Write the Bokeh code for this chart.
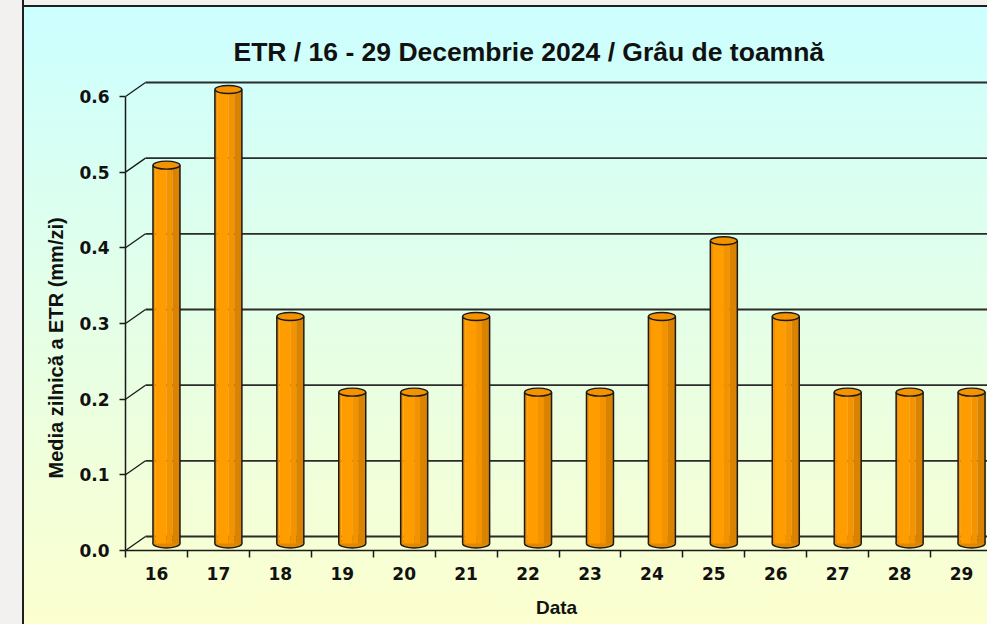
from bokeh.plotting import figure
from bokeh.models import Range1d, FixedTicker, PrintfTickFormatter, CustomJSTickFormatter, Title
from bokeh.embed import file_html
from bokeh.resources import INLINE

# ---------------- data ----------------
days = ["16", "17", "18", "19", "20", "21", "22", "23", "24", "25", "26", "27", "28", "29"]
etr = [0.5, 0.6, 0.3, 0.2, 0.2, 0.3, 0.2, 0.2, 0.3, 0.4, 0.3, 0.2, 0.2, 0.2]
y_ticks = [0.0, 0.1, 0.2, 0.3, 0.4, 0.5, 0.6]
title_text = "ETR / 16 - 29 Decembrie 2024 / Grâu de toamnă"
x_label = "Data"
y_label = "Media zilnică a ETR (mm/zi)"

# ---------------- geometry ----------------
W, H = 987, 624
FRAME_LEFT, FRAME_TOP, FRAME_BOTTOM = 125, 70, 550
PX_X = 61.93          # pixels per category
PX_Y = 756.7          # pixels per mm/zi
x_end = (W - FRAME_LEFT) / PX_X
y_end = (FRAME_BOTTOM - FRAME_TOP) / PX_Y
n = len(days)

DEPTH_X, DEPTH_Y = 20, 14        # 3D depth offset in px
dx = DEPTH_X / PX_X
dy = DEPTH_Y / PX_Y

FONT = "Liberation Sans"
TICK_FONT = "DejaVu Sans"
DARK = "#1a1a1a"
TXT = "#111111"

p = figure(width=W, height=H, x_range=Range1d(0, x_end), y_range=Range1d(0, y_end),
           output_backend="svg", toolbar_location=None,
           min_border_left=FRAME_LEFT, min_border_right=0,
           min_border_top=FRAME_TOP, min_border_bottom=H - FRAME_BOTTOM)
p.border_fill_alpha = 0
p.background_fill_alpha = 0
p.outline_line_color = None
p.xgrid.visible = False
p.ygrid.visible = False
p.styles = {
    "background-image": (
        "linear-gradient(to right, #f2f1ef 0px, #f2f1ef 22px, #1e1e1e 22px, #1e1e1e 24px, transparent 24px),"
        "linear-gradient(to bottom, #f2f1ef 0px, #f2f1ef 5px, #1e1e1e 5px, #1e1e1e 7px, transparent 7px),"
        "linear-gradient(to bottom, #ccffff 7px, #fcffcf 624px)"
    )
}

# title
p.title.text = title_text
p.title.align = "left"
p.title.offset = 108
p.title.text_font = FONT
p.title.text_font_style = "bold"
p.title.text_font_size = "26.5px"
p.title.text_color = TXT
p.title.standoff = 7

# x axis
xa = p.xaxis[0]
xa.ticker = FixedTicker(ticks=[i + 0.5 for i in range(n)], minor_ticks=list(range(n + 1)))
xa.formatter = CustomJSTickFormatter(args=dict(days=days), code="return days[Math.floor(tick)];")
xa.bounds = (0, n)
xa.major_tick_out = 0
xa.major_tick_in = 0
xa.minor_tick_out = 7
xa.minor_tick_in = 0
xa.minor_tick_line_color = DARK
xa.minor_tick_line_width = 1.5
xa.axis_line_color = DARK
xa.axis_line_width = 1.5
xa.major_label_text_font = TICK_FONT
xa.major_label_text_font_style = "bold"
xa.major_label_text_font_size = "17px"
xa.major_label_text_color = TXT
xa.major_label_standoff = 9
xa.axis_label = x_label
xa.axis_label_text_font = FONT
xa.axis_label_text_font_style = "bold"
xa.axis_label_text_font_size = "19px"
xa.axis_label_text_color = TXT
xa.axis_label_standoff = 14

# y axis
ya = p.yaxis[0]
ya.ticker = FixedTicker(ticks=y_ticks, minor_ticks=[])
ya.formatter = PrintfTickFormatter(format="%.1f")
ya.bounds = (0, y_ticks[-1])
ya.major_tick_out = 6
ya.major_tick_in = 0
ya.major_tick_line_color = DARK
ya.major_tick_line_width = 1.5
ya.minor_tick_line_color = None
ya.axis_line_color = DARK
ya.axis_line_width = 1.5
ya.major_label_text_font = TICK_FONT
ya.major_label_text_font_style = "bold"
ya.major_label_text_font_size = "17px"
ya.major_label_text_color = TXT
ya.major_label_standoff = 10

# y label: a left-side title so it can start where the original one starts
p.add_layout(Title(text=y_label, align="left", offset=72, standoff=19,
                   text_font=FONT, text_font_style="bold", text_font_size="20px",
                   text_color=TXT), "left")

# ---------------- 3D walls: diagonals + back grid lines ----------------
p.segment(x0=[0] * len(y_ticks), y0=y_ticks,
          x1=[dx] * len(y_ticks), y1=[t + dy for t in y_ticks],
          line_color=DARK, line_width=1.3)
p.segment(x0=[dx] * len(y_ticks), y0=[t + dy for t in y_ticks],
          x1=[x_end + 1] * len(y_ticks), y1=[t + dy for t in y_ticks],
          line_color="#2b2b2b", line_width=1.8)

# ---------------- cylinders ----------------
bw = 27 / PX_X
bx = [i + 0.5 + dx / 2 for i in range(n)]
base = dy / 2
tops = [v + dy / 2 for v in etr]

p.ellipse(x=bx, y=[base] * n, width=27, height=9, width_units="screen", height_units="screen",
          fill_color="#e08800", line_color=DARK, line_width=1.4)

stripes = [(0.0, 0.10, "#f08f00"), (0.10, 0.50, "#ff9d00"), (0.50, 0.72, "#f39300"), (0.72, 1.0, "#d98300")]
for s, e, c in stripes:
    p.vbar(x=[b - bw / 2 + (s + e) / 2 * bw for b in bx], width=(e - s) * bw * 1.02,
           bottom=base, top=tops, fill_color=c, line_color=None)

p.segment(x0=[b - bw / 2 for b in bx], y0=[base] * n, x1=[b - bw / 2 for b in bx], y1=tops,
          line_color=DARK, line_width=1.5)
p.segment(x0=[b + bw / 2 for b in bx], y0=[base] * n, x1=[b + bw / 2 for b in bx], y1=tops,
          line_color=DARK, line_width=1.5)

p.ellipse(x=bx, y=tops, width=27, height=8, width_units="screen", height_units="screen",
          fill_color="#f39300", line_color=DARK, line_width=1.4)

open("out.html", "w").write(file_html(p, INLINE))
